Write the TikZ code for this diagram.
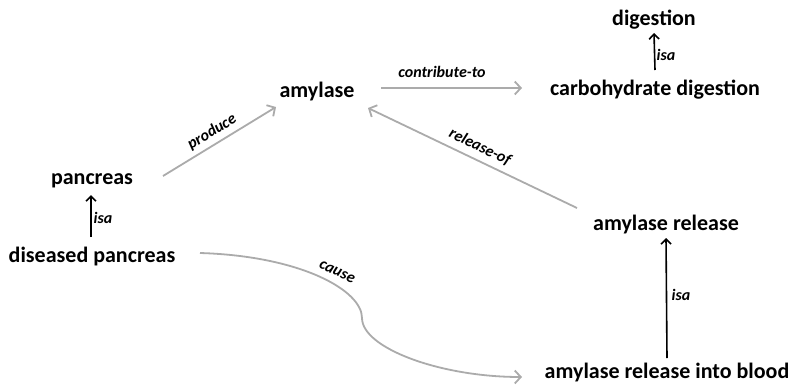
\documentclass[tikz,border=0pt]{standalone}
\usepackage{fontspec}
\setmainfont{Carlito}
\usetikzlibrary{arrows.meta,calc}
\definecolor{relgray}{HTML}{ABABAB}
\begin{document}
\begin{tikzpicture}[x=1pt,y=-1pt,
  concept/.style={inner sep=0pt,font=\fontsize{22}{24}\selectfont\bfseries},
  rlabel/.style={inner sep=0pt,font=\fontsize{16}{18}\selectfont\bfseries\itshape},
  rel/.style={draw=relgray,line width=1.8pt,-{Straight Barb[length=6pt,width=13pt,line width=1.8pt]}},
  isarel/.style={draw=black,line width=1.6pt,-{Straight Barb[length=5pt,width=10pt,line width=1.6pt]}}]
\useasboundingbox (0,0) rectangle (792,388);

% concepts
\node[concept] (dig)   at (654,20)  {digestion};
\node[concept] (carb)  at (655,90)  {carbohydrate digestion};
\node[concept] (amy)   at (317,92)  {amylase};
\node[concept] (pan)   at (92,181)  {pancreas};
\node[concept] (dpan)  at (92,257)  {diseased pancreas};
\node[concept] (arel)  at (666,225) {amylase release};
\node[concept] (arb)   at (667,373) {amylase release into blood};

% isa links
\draw[isarel] ($(carb.center)+(0,-20)$) -- ($(dig.center)+(0,13)$);
\node[rlabel] (isa1) at (666,55) {isa};
\draw[isarel] ($(dpan.center)+(-1,-20)$) -- ($(pan.center)+(-1,14)$);
\node[rlabel] (isa2) at (103,218) {isa};
\draw[isarel] ($(arb.center)+(0,-15)$) -- ($(arel.center)+(0,13)$);
\node[rlabel] (isa3) at (681,295) {isa};

% other relations
\draw[rel] ($(pan.center)+(71,-5)$) -- ($(amy.center)+(-41,15)$);
\node[rlabel,rotate=31] (lprod) at (212,132) {produce};

\draw[rel] ($(amy.center)+(64,-4)$) -- ($(carb.center)+(-133,-2)$);
\node[rlabel] (lcontr) at (442,72) {contribute-to};

\draw[rel] ($(arel.center)+(-89,-17)$) -- ($(amy.center)+(51,16)$);
\node[rlabel,rotate=-25.6] (lrel) at (480,147) {release-of};

\draw[rel] ($(dpan.center)+(108,-4)$)
   .. controls (300,256) and (362,290) .. (362,318)
   .. controls (362,348) and (440,377) .. ($(arb.center)+(-145,4)$);
\node[rlabel,rotate=-25] (lcause) at (337,272) {cause};
\end{tikzpicture}
\end{document}
